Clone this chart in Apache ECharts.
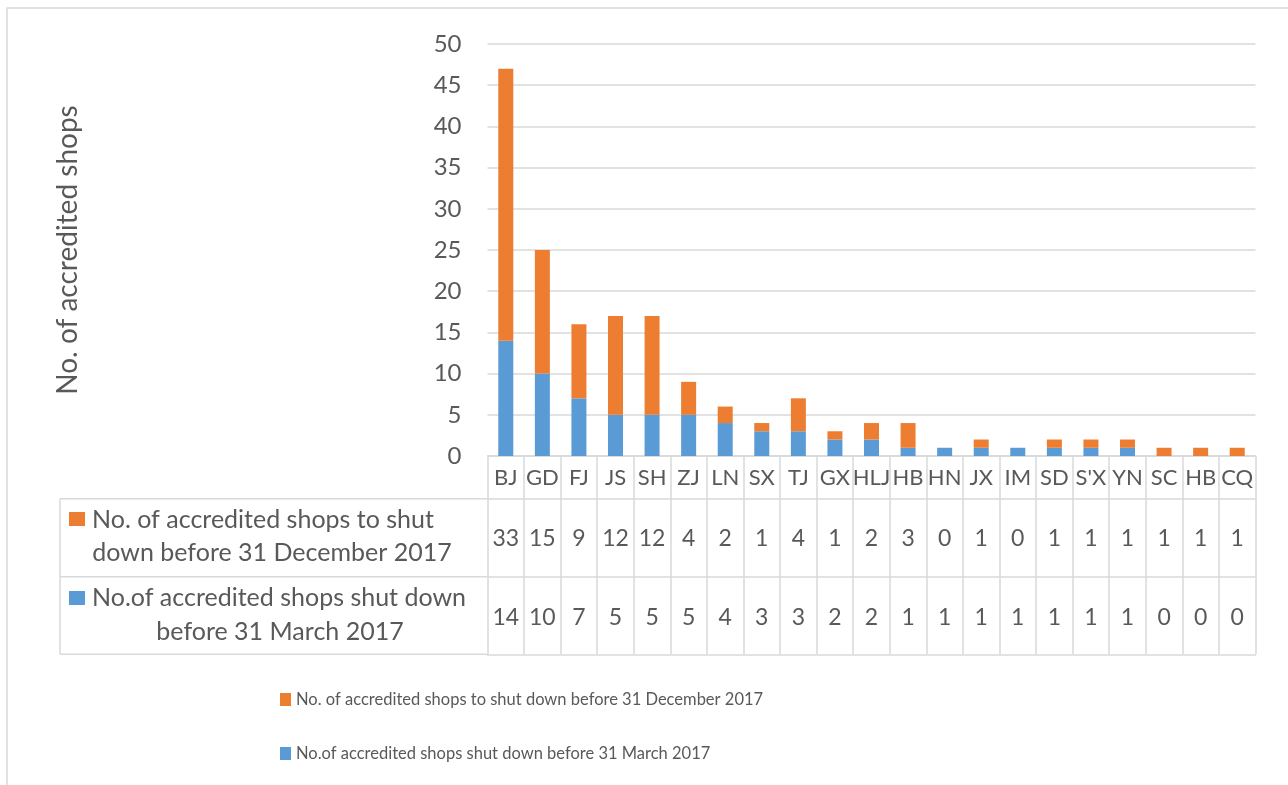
<!DOCTYPE html>
<html>
<head>
<meta charset="utf-8">
<script src="https://cdn.jsdelivr.net/npm/echarts@6/dist/echarts.min.js"></script>
<style>
html,body{margin:0;padding:0;background:#fff;}
#main{width:1288px;height:785px;}
</style>
</head>
<body>
<div id="main"></div>
<script>
const categories = ['BJ','GD','FJ','JS','SH','ZJ','LN','SX','TJ','GX','HLJ','HB','HN','JX','IM','SD',"S'X",'YN','SC','HB','CQ'];
const toShutDec = [33,15,9,12,12,4,2,1,4,1,2,3,0,1,0,1,1,1,1,1,1];
const shutMar = [14,10,7,5,5,5,4,3,3,2,2,1,1,1,1,1,1,1,0,0,0];
const yTicks = [0,5,10,15,20,25,30,35,40,45,50];
const nameDec = 'No. of accredited shops to shut down before 31 December 2017';
const nameMar = 'No.of accredited shops shut down before 31 March 2017';
const yTitle = 'No. of accredited shops';

const ORANGE = '#ED7D31', BLUE = '#5B9BD5', TXT = '#595959', LINE = '#D9D9D9';
const FONT = 'Lato';
const chart = echarts.init(document.getElementById('main'));

const gridLeft = 487.5, gridTop = 44, gridW = 768, gridH = 412;
const row1 = 42.7, row2 = 120.7, row3 = 198.3;

function tableAxis(offset, labels, margin, showLabel) {
  return {
    type: 'category', data: categories, position: 'bottom', offset: offset,
    axisLine: {show: true, lineStyle: {color: LINE, width: 1.5}},
    axisTick: {show: false},
    axisLabel: {show: showLabel, interval: 0, margin: margin, fontSize: 23, color: TXT, fontFamily: FONT,
      formatter: (v, i) => labels ? String(labels[i]) : ''},
    splitLine: {show: false}
  };
}

const option = {
  animation: false,
  backgroundColor: '#fff',
  grid: {left: gridLeft, top: gridTop, width: gridW, height: gridH, containLabel: false},
  legend: {
    data: [nameDec, nameMar], orient: 'vertical', left: 275, top: 686,
    itemGap: 37, itemWidth: 11, itemHeight: 13, icon: 'rect',
    textStyle: {fontSize: 16.5, color: TXT, fontFamily: FONT}
  },
  xAxis: [
    {
      type: 'category', data: categories, position: 'bottom',
      axisLine: {show: true, lineStyle: {color: LINE, width: 1.5}},
      axisTick: {show: true, interval: 0, length: row3, lineStyle: {color: LINE, width: 1.5}},
      axisLabel: {interval: 0, margin: 11, fontSize: 22, color: TXT, fontFamily: FONT}
    },
    tableAxis(row1, toShutDec, 28, true),
    tableAxis(row2, shutMar, 29, true),
    tableAxis(row3, null, 10, false)
  ],
  yAxis: {
    type: 'value', min: 0, max: 50, interval: 5,
    name: yTitle, nameLocation: 'middle', nameRotate: 90, nameGap: 406,
    nameTextStyle: {fontSize: 28, color: TXT, fontFamily: FONT},
    axisLine: {show: false}, axisTick: {show: false},
    axisLabel: {margin: 26, fontSize: 24, color: TXT, fontFamily: FONT,
      formatter: v => yTicks.includes(v) ? String(v) : ''},
    splitLine: {lineStyle: {color: LINE, width: 1.5}}
  },
  series: [
    {name: nameMar, type: 'bar', stack: 'a', data: shutMar, barWidth: 15, itemStyle: {color: BLUE}, xAxisIndex: 0},
    {name: nameDec, type: 'bar', stack: 'a', data: toShutDec, barWidth: 15, itemStyle: {color: ORANGE}, xAxisIndex: 0}
  ],
  graphic: [
    {type: 'rect', shape: {x: 7, y: 8, width: 1300, height: 800}, style: {fill: null, stroke: LINE, lineWidth: 1.5}, silent: true, z: -10},
    {type: 'line', shape: {x1: 60, y1: gridTop + gridH + row1, x2: gridLeft, y2: gridTop + gridH + row1}, style: {stroke: LINE, lineWidth: 1.5}},
    {type: 'line', shape: {x1: 60, y1: gridTop + gridH + row2, x2: gridLeft, y2: gridTop + gridH + row2}, style: {stroke: LINE, lineWidth: 1.5}},
    {type: 'line', shape: {x1: 60, y1: gridTop + gridH + row3, x2: gridLeft, y2: gridTop + gridH + row3}, style: {stroke: LINE, lineWidth: 1.5}},
    {type: 'line', shape: {x1: 60, y1: gridTop + gridH + row1, x2: 60, y2: gridTop + gridH + row3}, style: {stroke: LINE, lineWidth: 1.5}},
    {type: 'rect', shape: {x: 69, y: 512, width: 16, height: 14}, style: {fill: ORANGE}},
    {type: 'text', x: 92, y: 520, style: {text: 'No. of accredited shops to shut', fontSize: 25, fontFamily: FONT, fill: TXT, textAlign: 'left', textVerticalAlign: 'middle'}},
    {type: 'text', x: 272, y: 553, style: {text: 'down before 31 December 2017', fontSize: 25, fontFamily: FONT, fill: TXT, textAlign: 'center', textVerticalAlign: 'middle'}},
    {type: 'rect', shape: {x: 69, y: 591, width: 16, height: 14}, style: {fill: BLUE}},
    {type: 'text', x: 92, y: 598, style: {text: 'No.of accredited shops shut down', fontSize: 25, fontFamily: FONT, fill: TXT, textAlign: 'left', textVerticalAlign: 'middle'}},
    {type: 'text', x: 280, y: 632, style: {text: 'before 31 March 2017', fontSize: 25, fontFamily: FONT, fill: TXT, textAlign: 'center', textVerticalAlign: 'middle'}}
  ]
};
chart.setOption(option);
</script>
</body>
</html>
